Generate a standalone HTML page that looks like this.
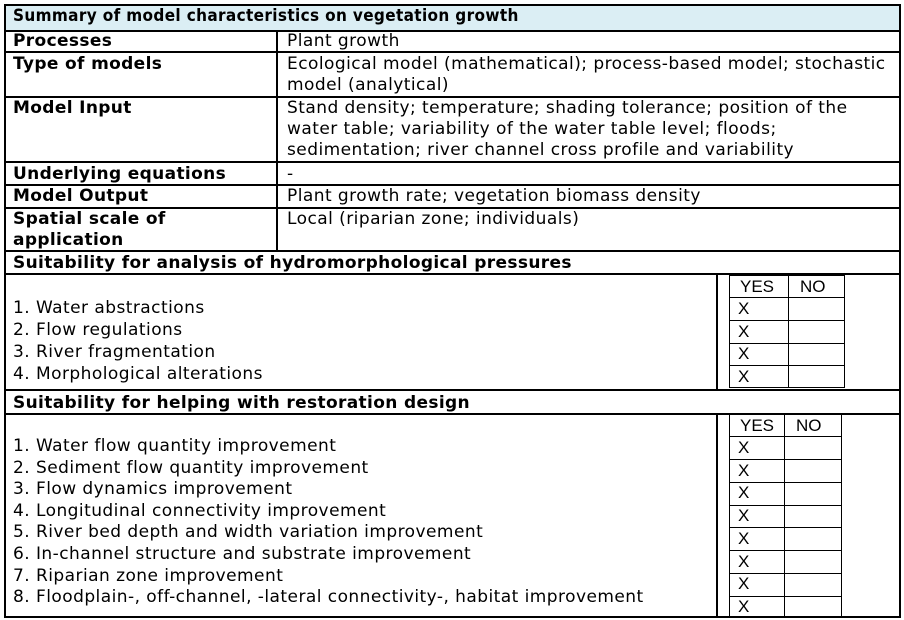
<!DOCTYPE html>
<html><head><meta charset="utf-8"><style>
body{margin:0;width:904px;height:620px;background:#fff;position:relative;overflow:hidden;font-family:"DejaVu Sans","Liberation Sans",sans-serif;font-size:17px;letter-spacing:0.45px;color:#000}
.h{position:absolute;height:2px;background:#000}
.v{position:absolute;width:2px;background:#000}
.hl{position:absolute;height:1px;background:#000}
.vl{position:absolute;width:1px;background:#000}
.t{position:absolute;white-space:nowrap;line-height:21px}
.b{font-weight:bold;letter-spacing:0.35px}
.s{font-family:"Liberation Sans",sans-serif;font-size:17px;letter-spacing:0}
</style></head><body>
<div style="position:absolute;left:5px;top:5px;width:895px;height:26px;background:#dbeef4"></div>
<div class="h" style="left:5px;top:4px;width:896px"></div>
<div class="h" style="left:5px;top:616px;width:896px"></div>
<div class="v" style="left:4px;top:4px;height:614px"></div>
<div class="v" style="left:899px;top:4px;height:614px"></div>
<div class="h" style="left:5px;top:30px;width:895px"></div>
<div class="h" style="left:5px;top:51px;width:895px"></div>
<div class="h" style="left:5px;top:96px;width:895px"></div>
<div class="h" style="left:5px;top:161px;width:895px"></div>
<div class="h" style="left:5px;top:184px;width:895px"></div>
<div class="h" style="left:5px;top:207px;width:895px"></div>
<div class="h" style="left:5px;top:250px;width:895px"></div>
<div class="h" style="left:5px;top:273px;width:895px"></div>
<div class="h" style="left:5px;top:389px;width:895px"></div>
<div class="h" style="left:5px;top:413px;width:895px"></div>
<div class="v" style="left:276px;top:31px;height:220px"></div>
<div class="v" style="left:716px;top:274px;height:116px"></div>
<div class="v" style="left:716px;top:414px;height:203px"></div>

<div class="t b" style="left:13px;top:6px;font-family:'DejaVu Sans Condensed','DejaVu Sans',sans-serif;font-size:17px">Summary of model characteristics on vegetation growth</div>
<div class="t b" style="left:13px;top:31px">Processes</div>
<div class="t" style="left:287px;top:31px">Plant growth</div>
<div class="t b" style="left:13px;top:54px">Type of models</div>
<div class="t" style="left:287px;top:54px">Ecological model (mathematical); process-based model; stochastic<br>model (analytical)</div>
<div class="t b" style="left:13px;top:98px">Model Input</div>
<div class="t" style="left:287px;top:98px">Stand density; temperature; shading tolerance; position of the<br>water table; variability of the water table level; floods;<br>sedimentation; river channel cross profile and variability</div>
<div class="t b" style="left:13px;top:164px">Underlying equations</div>
<div class="t" style="left:287px;top:164px">-</div>
<div class="t b" style="left:13px;top:186px">Model Output</div>
<div class="t" style="left:287px;top:186px">Plant growth rate; vegetation biomass density</div>
<div class="t b" style="left:13px;top:209px">Spatial scale of<br>application</div>
<div class="t" style="left:287px;top:209px">Local (riparian zone; individuals)</div>
<div class="t b" style="left:13px;top:253px">Suitability for analysis of hydromorphological pressures</div>
<div class="t" style="left:13px;top:297px;line-height:22px">1. Water abstractions<br>2. Flow regulations<br>3. River fragmentation<br>4. Morphological alterations</div>
<div class="t b" style="left:13px;top:393px">Suitability for helping with restoration design</div>
<div class="t" style="left:13px;top:436px;line-height:21.6px">1. Water flow quantity improvement<br>2. Sediment flow quantity improvement<br>3. Flow dynamics improvement<br>4. Longitudinal connectivity improvement<br>5. River bed depth and width variation improvement<br>6. In-channel structure and substrate improvement<br>7. Riparian zone improvement<br>8. Floodplain-, off-channel, -lateral connectivity-, habitat improvement</div>

<div class="vl" style="left:729px;top:275px;height:113px"></div>
<div class="vl" style="left:788px;top:275px;height:113px"></div>
<div class="vl" style="left:844px;top:275px;height:113px"></div>
<div class="hl" style="left:729px;top:275px;width:116px"></div>
<div class="hl" style="left:729px;top:297px;width:116px"></div>
<div class="hl" style="left:729px;top:320px;width:116px"></div>
<div class="hl" style="left:729px;top:343px;width:116px"></div>
<div class="hl" style="left:729px;top:365px;width:116px"></div>
<div class="hl" style="left:729px;top:387px;width:116px"></div>
<div class="t s" style="left:740px;top:276px">YES</div>
<div class="t s" style="left:800px;top:276px">NO</div>
<div class="t s" style="left:738px;top:298px;line-height:22.7px">X<br>X<br>X<br>X</div>

<div class="vl" style="left:729px;top:414px;height:203px"></div>
<div class="vl" style="left:784px;top:414px;height:203px"></div>
<div class="vl" style="left:841px;top:414px;height:203px"></div>
<div class="hl" style="left:729px;top:436px;width:113px"></div>
<div class="hl" style="left:729px;top:459px;width:113px"></div>
<div class="hl" style="left:729px;top:482px;width:113px"></div>
<div class="hl" style="left:729px;top:505px;width:113px"></div>
<div class="hl" style="left:729px;top:527px;width:113px"></div>
<div class="hl" style="left:729px;top:550px;width:113px"></div>
<div class="hl" style="left:729px;top:573px;width:113px"></div>
<div class="hl" style="left:729px;top:596px;width:113px"></div>
<div class="t s" style="left:740px;top:415px">YES</div>
<div class="t s" style="left:796px;top:415px">NO</div>
<div class="t s" style="left:738px;top:437px;line-height:22.7px">X<br>X<br>X<br>X<br>X<br>X<br>X<br>X</div>
</body></html>
